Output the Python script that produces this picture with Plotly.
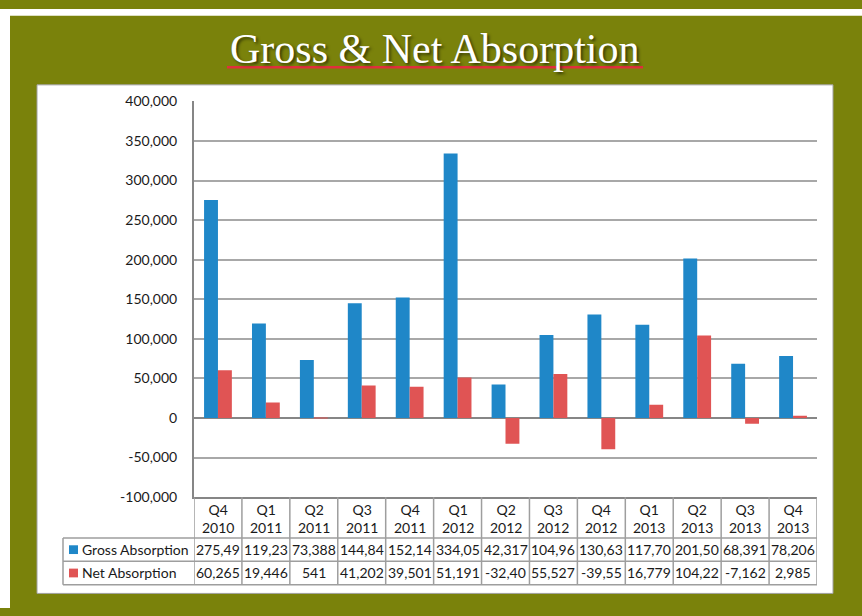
import plotly.graph_objects as go

categories = ["Q4 2010", "Q1 2011", "Q2 2011", "Q3 2011", "Q4 2011", "Q1 2012", "Q2 2012",
              "Q3 2012", "Q4 2012", "Q1 2013", "Q2 2013", "Q3 2013", "Q4 2013"]
header_labels = ["Q4<br>2010", "Q1<br>2011", "Q2<br>2011", "Q3<br>2011", "Q4<br>2011", "Q1<br>2012",
                 "Q2<br>2012", "Q3<br>2012", "Q4<br>2012", "Q1<br>2013", "Q2<br>2013", "Q3<br>2013",
                 "Q4<br>2013"]
gross_absorption = [275494, 119233, 73388, 144845, 152143, 334052, 42317, 104962, 130634,
                    117705, 201503, 68391, 78206]
net_absorption = [60265, 19446, 541, 41202, 39501, 51191, -32404, 55527, -39552, 16779,
                  104225, -7162, 2985]
series_names = ["Gross Absorption", "Net Absorption"]
ytick_vals = [-100000, -50000, 0, 50000, 100000, 150000, 200000, 250000, 300000, 350000, 400000]
ytick_text = ["-100,000", "-50,000", "0", "50,000", "100,000", "150,000", "200,000",
              "250,000", "300,000", "350,000", "400,000"]
title_text = "Gross & Net Absorption"

BLUE = "#1F87C8"
RED = "#E05454"
OLIVE = "#7A820B"
W, H = 862, 616


def px(x):
    return x / W


def py(y):
    return 1 - y / H


def cell_text(v):
    # the table cells are narrow, so values are cut to 6 characters as in the source
    return f"{v:,}"[:6]


fig = go.Figure()
fig.add_trace(go.Bar(x=categories, y=gross_absorption, name=series_names[0],
                     marker=dict(color=BLUE, line=dict(width=0))))
fig.add_trace(go.Bar(x=categories, y=net_absorption, name=series_names[1],
                     marker=dict(color=RED, line=dict(width=0))))

shapes = []
annotations = []

# white page strips and the white panel
shapes.append(dict(type="rect", xref="paper", yref="paper", x0=0, x1=1, y0=py(7), y1=1,
                   fillcolor="white", line=dict(width=0), layer="below"))
shapes.append(dict(type="rect", xref="paper", yref="paper", x0=0, x1=px(10), y0=0, y1=1,
                   fillcolor="white", line=dict(width=0), layer="below"))
shapes.append(dict(type="rect", xref="paper", yref="paper", x0=px(37), x1=px(833), y0=py(601), y1=py(78),
                   fillcolor="white", line=dict(width=1, color="#A0A0A0"), layer="below"))

# title underline
shapes.append(dict(type="line", xref="paper", yref="paper", x0=px(227), x1=px(643), y0=py(60), y1=py(60),
                   line=dict(color="#E0303C", width=2.5)))

# data table
TC = "#9E9E9E"
n = len(categories)
y_head_top, y_row1, y_row2, y_bot = 502, 544, 568, 592
for i in range(n + 1):
    shapes.append(dict(type="line", xref="x", yref="paper", x0=i - 0.5, x1=i - 0.5,
                       y0=py(y_bot), y1=py(y_head_top), line=dict(color=TC, width=1.5)))
shapes.append(dict(type="line", xref="paper", yref="paper", x0=px(63), x1=px(63),
                   y0=py(y_bot), y1=py(y_row1), line=dict(color=TC, width=1.5)))
for yy in (y_row1, y_row2, y_bot):
    shapes.append(dict(type="line", xref="paper", yref="paper", x0=px(63), x1=px(817),
                       y0=py(yy), y1=py(yy), line=dict(color=TC, width=1.5)))

FONT = "Lato"
TFS = 14
for i, lab in enumerate(header_labels):
    annotations.append(dict(x=i, y=py((y_head_top + y_row1) / 2 + 1), xref="x", yref="paper",
                            text=lab, showarrow=False, xanchor="center", yanchor="middle",
                            font=dict(family=FONT, size=TFS, color="#1A1A1A")))
rows = [(gross_absorption, BLUE, y_row1, y_row2), (net_absorption, RED, y_row2, y_bot)]
for (vals, col, ya, yb), name in zip(rows, series_names):
    yc = (ya + yb) / 2
    shapes.append(dict(type="rect", xref="paper", yref="paper", x0=px(69), x1=px(78),
                       y0=py(yc + 4.5), y1=py(yc - 4.5), fillcolor=col, line=dict(width=0)))
    annotations.append(dict(x=px(80), y=py(yc), xref="paper", yref="paper", text=name,
                            showarrow=False, xanchor="left", yanchor="middle",
                            font=dict(family=FONT, size=TFS, color="#1A1A1A")))
    for i, v in enumerate(vals):
        annotations.append(dict(x=i, y=py(yc), xref="x", yref="paper", text=cell_text(v),
                                showarrow=False, xanchor="center", yanchor="middle",
                                font=dict(family=FONT, size=TFS, color="#1A1A1A")))

# title
annotations.append(dict(x=px(435), y=py(41), xref="paper", yref="paper", text=title_text,
                        showarrow=False, xanchor="center", yanchor="middle",
                        font=dict(family="Liberation Serif", size=42, color="white",
                                  shadow="2px 2px 3px rgba(0,0,0,0.55)")))

fig.update_layout(
    width=W, height=H,
    margin=dict(l=0, r=0, t=0, b=0),
    paper_bgcolor=OLIVE,
    plot_bgcolor="white",
    barmode="group",
    bargap=0.42,
    bargroupgap=0,
    showlegend=False,
    shapes=shapes,
    annotations=annotations,
    xaxis=dict(domain=[px(194), px(817)], showticklabels=False, ticks="",
               showgrid=False, showline=True, linecolor="#868686", linewidth=2,
               range=[-0.5, n - 0.5], fixedrange=True),
    yaxis=dict(domain=[py(502), py(95)], range=[-100000, 400000],
               tickvals=ytick_vals, ticktext=ytick_text,
               showgrid=True, gridcolor="#A8A8A8", gridwidth=1.5,
               zeroline=True, zerolinecolor="#868686", zerolinewidth=2,
               showline=True, linecolor="#868686", linewidth=2,
               ticks="", ticklabelstandoff=12,
               tickfont=dict(family=FONT, size=14, color="#1A1A1A"), fixedrange=True),
)

fig.write_html(
    "out.html",
    config={"displayModeBar": False},
    post_script="document.body.style.margin='0';document.body.style.overflow='hidden';",
)
